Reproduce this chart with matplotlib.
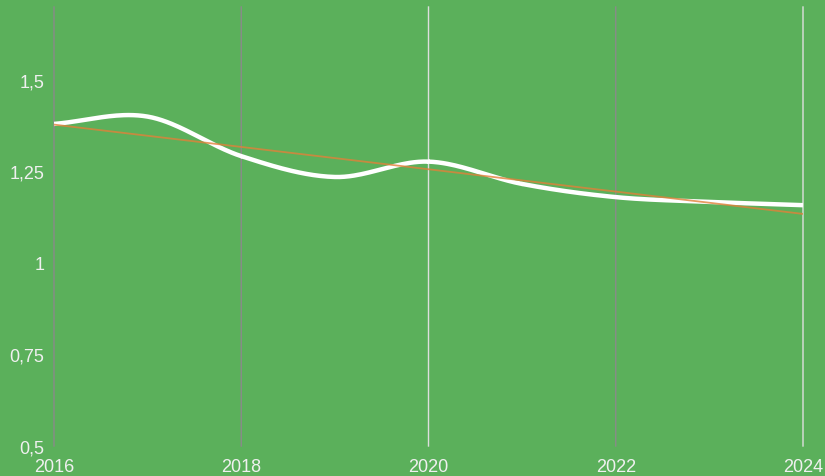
import matplotlib
matplotlib.use('Agg')
import matplotlib.pyplot as plt
import numpy as np

# values
years = [2016, 2017, 2018, 2019, 2020, 2021, 2022, 2023, 2024]
values = [1.38, 1.40, 1.292, 1.235, 1.277, 1.216, 1.180, 1.167, 1.158]
yticks = [0.5, 0.75, 1.0, 1.25, 1.5]
ytick_labels = ['0,5', '0,75', '1', '1,25', '1,5']
xticks = [2016, 2018, 2020, 2022, 2024]
grid_colors = ['#8a8a8a', '#8a8a8a', '#dedede', '#8a8a8a', '#dedede']

bg = '#5bb05b'
plt.rcParams['font.family'] = ['Liberation Sans', 'DejaVu Sans']


def catmull_rom(x, y, n=40):
    x = np.asarray(x, float)
    y = np.asarray(y, float)
    px = np.concatenate([[2*x[0]-x[1]], x, [2*x[-1]-x[-2]]])
    py = np.concatenate([[2*y[0]-y[1]], y, [2*y[-1]-y[-2]]])
    xs, ys = [], []
    t = np.linspace(0, 1, n)
    for i in range(1, len(px)-2):
        for p, out in ((px, xs), (py, ys)):
            p0, p1, p2, p3 = p[i-1], p[i], p[i+1], p[i+2]
            out.append(0.5*((2*p1) + (-p0+p2)*t + (2*p0-5*p1+4*p2-p3)*t**2
                            + (-p0+3*p1-3*p2+p3)*t**3))
    return np.concatenate(xs), np.concatenate(ys)


fig = plt.figure(figsize=(8.25, 4.77), dpi=100, facecolor=bg)
ax = fig.add_axes([54/825, 30/477, 749/825, 439/477])
ax.set_facecolor(bg)

for xv, c in zip(xticks, grid_colors):
    ax.axvline(xv, color=c, lw=1.0, snap=False, clip_on=False, zorder=1)

sx, sy = catmull_rom(years, values)
ax.plot(sx, sy, color='white', lw=3.2, solid_capstyle='butt', zorder=3)

k, b = np.polyfit(years, values, 1)
tx = np.array([years[0], years[-1]])
ax.plot(tx, k*tx + b, color='#e0813a', lw=1.3, alpha=0.8, zorder=4)

ax.set_xlim(2016, 2024)
ax.set_ylim(0.5, 0.5 + 439/366)
ax.set_xticks(xticks)
ax.set_xticklabels([str(x) for x in xticks])
ax.set_yticks(yticks)
ax.set_yticklabels(ytick_labels)
ax.tick_params(axis='both', length=0, colors='#f0f0f0', labelsize=13)
ax.tick_params(axis='x', pad=9)
ax.tick_params(axis='y', pad=7)
for s in ax.spines.values():
    s.set_visible(False)

fig.savefig('out.png', dpi=100, facecolor=bg)
